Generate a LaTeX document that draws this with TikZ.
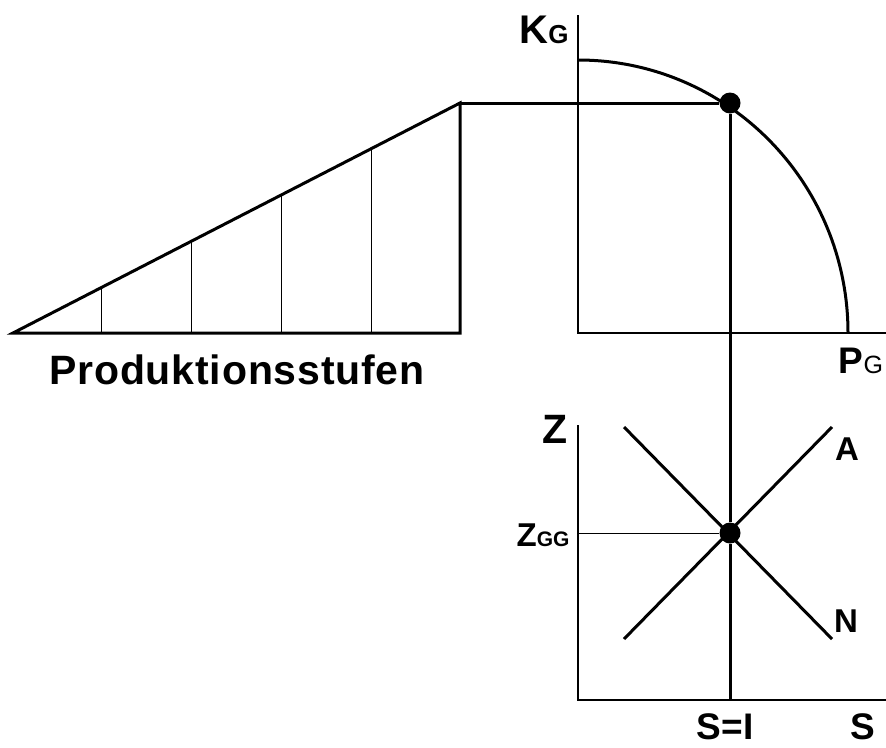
\documentclass[tikz,border=0pt]{standalone}
\usepackage{fontspec}
\setmainfont{Liberation Sans}
\usetikzlibrary{positioning}
\newcommand\lowG[2]{{\fontsize{#1}{#1}\selectfont #2}}

\begin{document}
\begin{tikzpicture}[x=1pt,y=-1pt,
  heavy/.style={line width=3pt},
  axis/.style={line width=2pt},
  fine/.style={line width=1pt},
  dot/.style={circle,fill=black,inner sep=0pt,minimum size=21pt},
  lbl/.style={anchor=base,inner sep=0pt,font=\bfseries\fontsize{40}{40}\selectfont}]
\useasboundingbox (0,0) rectangle (886,747);
% triangle of production stages
\coordinate (base) at (13,333);
\coordinate (corner) at (460,333);
\coordinate (top) at (460,103);
\draw[heavy,line join=miter] (base) -- (corner) -- (top) -- cycle;
\foreach \x in {101,191,281,371}
  \draw[fine] (\x,333) -- (\x,{333-(\x-13)/447*230});
\node[lbl,font=\bfseries\fontsize{41}{41}\selectfont\addfontfeatures{LetterSpace=2}] (stufen) at (237,384) {Produktionsstufen};
% upper diagram
\coordinate (ko) at (578,333);
\draw[axis] (578,15) -- (ko) -- (886,333);
\draw[heavy] (578,60) arc[start angle=-90,end angle=0,x radius=270,y radius=273];
\node[dot] (g) at (730,103) {};
\node[lbl] (kg) at (544,43) {K\lowG{26}{G}};
\node[lbl,font=\bfseries\fontsize{37}{37}\selectfont] (pg) at (861,373) {P\lowG{25}{\mdseries G}};
% lower diagram
\coordinate (zo) at (578,700);
\draw[axis] (578,425) -- (zo) -- (886,700);
\node[dot] (e) at (730,533) {};
\coordinate (si) at (730,700);
\draw[heavy] (624,427) -- (832,639);
\draw[heavy] (624,639) -- (832,427);
\draw[heavy] (top) -- (g);
\draw[heavy] (g) -- (e) -- (si);
\draw[fine] (578,533) -- (e);
\node[lbl,font=\bfseries\fontsize{41}{41}\selectfont] (z) at (555,443) {Z};
\node[lbl,font=\bfseries\fontsize{33}{33}\selectfont] (zgg) at (543,546) {Z\lowG{21}{GG}};
\node[lbl,font=\bfseries\fontsize{33}{33}\selectfont] (a) at (847,460) {A};
\node[lbl,font=\bfseries\fontsize{33}{33}\selectfont] (n) at (846,632) {N};
\node[lbl,font=\bfseries\fontsize{37}{37}\selectfont] (sgi) at (725,739) {S=I};
\node[lbl,font=\bfseries\fontsize{37}{37}\selectfont] (s) at (863,739) {S};
\end{tikzpicture}
\end{document}
